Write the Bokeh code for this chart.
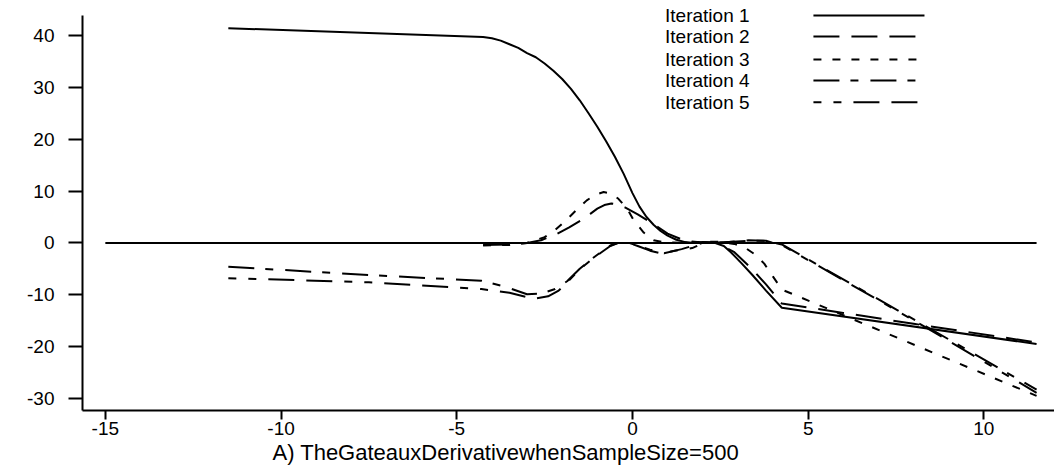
from bokeh.plotting import figure
from bokeh.models import Range1d, FixedTicker, Title
from bokeh.embed import file_html
from bokeh.resources import INLINE
from bokeh.core.properties import value

# Gateaux derivative estimates for five iterations (sample size 500)
iter1_x = [-11.5, -4.25, -4.0, -3.75, -3.5, -3.25, -3.0, -2.75, -2.5, -2.25, -2.0,
           -1.75, -1.5, -1.25, -1.0, -0.75, -0.5, -0.25, 0.0, 0.2, 0.4, 0.6, 0.8,
           1.0, 1.25, 1.5, 1.75, 2.0, 2.3, 2.6, 2.8, 3.1, 3.4, 3.8, 4.25, 11.5]
iter1_y = [41.4, 39.7, 39.45, 39.0, 38.3, 37.6, 36.6, 35.8, 34.6, 33.2, 31.6,
           29.7, 27.5, 25.0, 22.4, 19.6, 16.6, 13.3, 9.6, 7.0, 5.0, 3.5, 2.3,
           1.4, 0.6, 0.15, 0.0, 0.15, 0.1, -0.6, -1.8, -3.9, -6.1, -9.2, -12.5, -19.5]

iter2_x = [-4.25, -3.5, -3.0, -2.6, -2.14, -1.8, -1.48, -1.2, -1.0, -0.8, -0.6, -0.4,
           -0.2, 0.15, 0.6, 1.0, 1.5, 2.0, 2.4, 2.9, 3.4, 3.8, 4.25, 6.0, 8.0, 11.5]
iter2_y = [-0.4, -0.3, 0.0, 0.5, 1.75, 3.0, 4.3, 5.6, 6.6, 7.3, 7.6, 7.4,
           6.8, 5.5, 3.6, 1.8, 0.4, 0.1, 0.0, -1.8, -5.0, -8.0, -11.7, -13.5, -15.6, -19.2]

iter3_x = [-4.25, -3.5, -3.0, -2.5, -2.2, -1.9, -1.6, -1.3, -1.05, -0.82, -0.6, -0.4,
           -0.15, 0.04, 0.32, 0.6, 0.9, 1.5, 2.0, 2.5, 2.9, 3.2, 3.5, 3.75, 4.0, 4.25, 11.5]
iter3_y = [-0.5, -0.4, 0.0, 1.1, 2.5, 4.3, 6.3, 8.2, 9.3, 9.8, 9.5, 8.5,
           6.6, 4.3, 2.0, 0.5, 0.1, 0.0, 0.2, 0.2, -0.2, -0.9, -2.3, -4.0, -6.5, -9.0, -29.5]

iter4_x = [-11.5, -7.5, -4.3, -3.6, -3.0, -2.6, -2.2, -1.86, -1.5, -1.2, -0.9, -0.63,
           -0.4, -0.1, 0.15, 0.5, 0.9, 1.4, 2.0, 2.6, 3.3, 3.8, 4.25, 8.2, 11.5]
iter4_y = [-4.6, -6.2, -7.3, -8.5, -9.9, -9.8, -8.9, -7.4, -5.0, -3.3, -1.8, -0.5,
           0.0, 0.0, -0.5, -1.3, -2.0, -1.2, 0.0, 0.1, 0.4, 0.4, -0.3, -15.5, -28.3]

iter5_x = [-11.5, -7.5, -4.3, -3.5, -2.8, -2.4, -2.1, -1.86, -1.5, -1.2, -0.9, -0.63,
           -0.4, -0.1, 0.15, 0.5, 0.85, 1.2, 1.7, 2.0, 2.6, 3.3, 3.8, 4.3, 8.2, 11.5]
iter5_y = [-6.8, -7.6, -8.9, -9.6, -10.8, -10.3, -9.2, -7.6, -5.1, -3.4, -1.9, -0.6,
           0.0, 0.0, -0.6, -1.5, -2.1, -1.5, -1.0, -0.1, 0.1, 0.5, 0.4, -0.6, -15.7, -28.9]

zero_x = [-15, 11.5]
zero_y = [0, 0]

series_names = ["Iteration 1", "Iteration 2", "Iteration 3", "Iteration 4", "Iteration 5"]
x_ticks = [-15, -10, -5, 0, 5, 10]
y_ticks = [-30, -20, -10, 0, 10, 20, 30, 40]
x_title = "A) TheGateauxDerivativewhenSampleSize=500"

# plot window
X_LO, X_HI = -15.65, 12.01
Y_LO, Y_HI = -32.32, 46.74
Y_AXIS_TOP = 43.85

FONT = "Liberation Sans"
DASHES = ["solid", "26 12", "8 11", "26 11 8 12", "8 12 8 12 26 12 26 12"]

p = figure(frame_width=972, frame_height=410,
           x_range=Range1d(X_LO, X_HI), y_range=Range1d(Y_LO, Y_HI),
           output_backend="svg", toolbar_location=None,
           min_border_left=82, min_border_right=0, min_border_top=0, min_border_bottom=55)
p.outline_line_color = None
p.grid.visible = False
p.background_fill_color = "white"
p.border_fill_color = "white"

p.line(zero_x, zero_y, line_color="black", line_width=2)

curves = [(iter1_x, iter1_y), (iter2_x, iter2_y), (iter3_x, iter3_y),
          (iter4_x, iter4_y), (iter5_x, iter5_y)]
for (xs, ys), dash in zip(curves, DASHES):
    p.line(xs, ys, line_color="black", line_width=2, line_dash=dash)

# legend: label on the left, line sample on the right
legend_text_x = 2.13
legend_line_x = (5.15, 8.31)
legend_rows = [43.85, 39.8, 35.35, 31.3, 27.1]
p.text(x=[legend_text_x] * len(series_names), y=legend_rows, text=series_names,
       text_font=value(FONT), text_font_size="19px", text_align="center",
       text_baseline="middle", text_color="black")
for row, dash in zip(legend_rows, DASHES):
    p.line(list(legend_line_x), [row, row], line_color="black", line_width=2, line_dash=dash)

for ax in (p.xaxis[0], p.yaxis[0]):
    ax.axis_line_color = "black"
    ax.axis_line_width = 2
    ax.major_tick_line_color = "black"
    ax.major_tick_line_width = 2
    ax.major_tick_in = 0
    ax.minor_tick_line_color = None
    ax.major_label_text_font = FONT
    ax.major_label_text_font_size = "19px"
    ax.major_label_text_color = "black"

p.xaxis.ticker = FixedTicker(ticks=x_ticks)
p.xaxis.major_label_overrides = {t: str(t) for t in x_ticks}
p.xaxis.major_tick_out = 9
p.xaxis.major_label_standoff = 2

p.yaxis.ticker = FixedTicker(ticks=y_ticks)
p.yaxis.major_label_overrides = {t: str(t) for t in y_ticks}
p.yaxis.major_tick_out = 14
p.yaxis.major_label_standoff = 14
p.yaxis.bounds = (Y_LO, Y_AXIS_TOP)

# caption under the x axis, set left of centre
p.add_layout(Title(text=x_title, align="left", offset=190, standoff=0,
                   text_font=FONT, text_font_size="22px", text_font_style="normal",
                   text_color="black"), "below")

open("out.html", "w").write(file_html(p, INLINE))
